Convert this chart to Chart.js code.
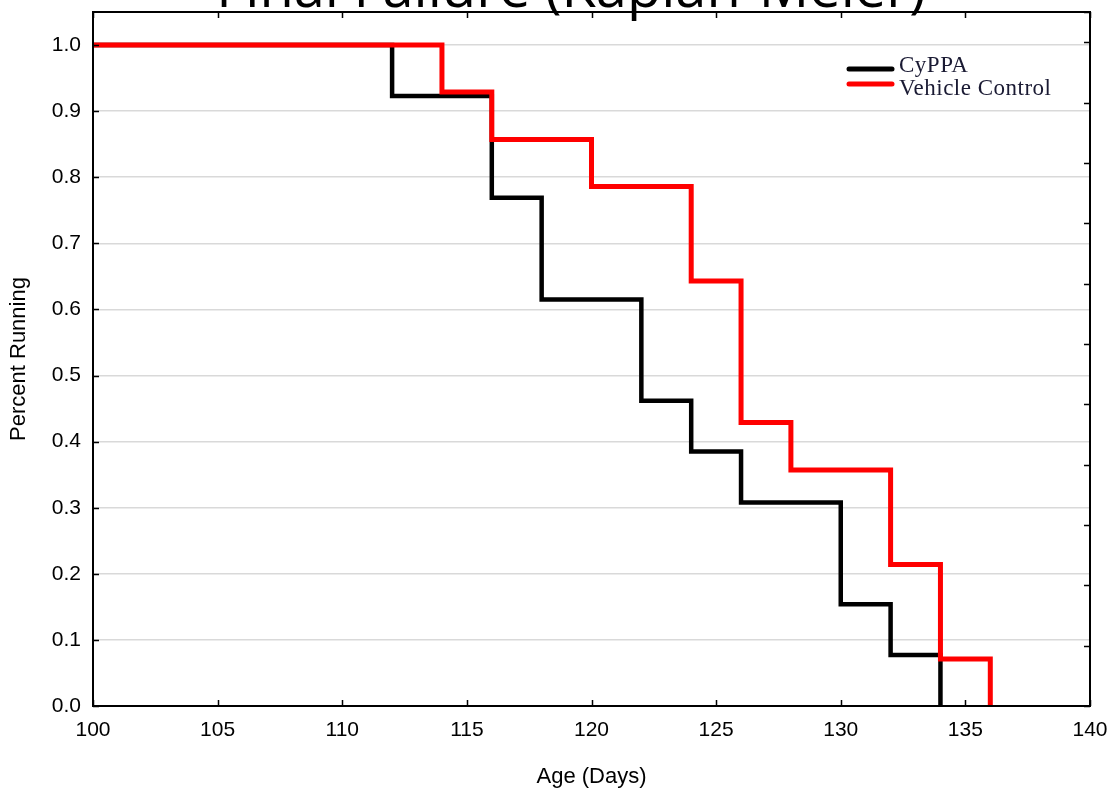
<!DOCTYPE html>
<html>
<head>
<meta charset="utf-8">
<title>Final Failure (Kaplan-Meier)</title>
<script src="https://cdn.jsdelivr.net/npm/chart.js@4/dist/chart.umd.min.js"></script>
<style>
  html, body { margin: 0; padding: 0; background: #fff; }
  #wrap { width: 1113px; height: 790px; }
</style>
</head>
<body>
<div id="wrap"><canvas id="km" width="1113" height="790"></canvas></div>
<script>
// ---------- DATA ----------
const chartTitle = "Final Failure (Kaplan-Meier)";
const xTitle = "Age (Days)";
const yTitle = "Percent Running";

const cyppaLabel = "CyPPA";
const cyppaDays  = [100, 112, 116, 118, 122, 124, 126, 130, 132, 134];
const cyppaSurv  = [1.0, 0.923, 0.769, 0.615, 0.462, 0.385, 0.308, 0.154, 0.077, 0.0];

const vehicleLabel = "Vehicle Control";
const vehicleDays  = [100, 114, 116, 120, 124, 126, 128, 132, 134, 136];
const vehicleSurv  = [1.0, 0.929, 0.857, 0.786, 0.643, 0.429, 0.357, 0.214, 0.071, 0.0];

const xMin = 100, xMax = 140, xStep = 5;
const yMin = 0, yMax = 1.05, yStep = 0.1, yTop = 1.0;

const FONT = "'Liberation Sans', Arial, sans-serif";

function toPoints(xs, ys) {
  return xs.map((x, i) => ({ x, y: ys[i] }));
}

// no automatic label overflow padding, layout.padding decides
function zeroPad(scale) {
  scale.paddingLeft = 0;
  scale.paddingRight = 0;
  scale.paddingTop = 0;
  scale.paddingBottom = 0;
}

// ---------- PLUGINS ----------
// frame + inward ticks on all four sides
const framePlugin = {
  id: "frame",
  afterDraw(chart) {
    const { ctx, chartArea: a, scales } = chart;
    const len = 6;
    ctx.save();
    ctx.strokeStyle = "#000";
    ctx.lineWidth = 1.5;
    ctx.beginPath();
    scales.x.ticks.forEach(t => {
      const px = Math.round(scales.x.getPixelForValue(t.value)) + 0.5;
      ctx.moveTo(px, a.bottom); ctx.lineTo(px, a.bottom - len);
      ctx.moveTo(px, a.top);    ctx.lineTo(px, a.top + len);
    });
    scales.y.ticks.forEach(t => {
      const py = Math.round(scales.y.getPixelForValue(t.value)) + 0.5;
      ctx.moveTo(a.left, py); ctx.lineTo(a.left + len, py);
    });
    scales.y2.ticks.forEach(t => {
      const py = Math.round(scales.y2.getPixelForValue(t.value)) + 0.5;
      ctx.moveTo(a.right, py); ctx.lineTo(a.right - len, py);
    });
    ctx.stroke();
    ctx.lineWidth = 2;
    ctx.strokeRect(a.left, a.top, a.right - a.left, a.bottom - a.top);
    ctx.restore();
  }
};

// big title, cut off at the top edge
const titlePlugin = {
  id: "bigTitle",
  afterDraw(chart) {
    const { ctx } = chart;
    ctx.save();
    ctx.fillStyle = "#000";
    ctx.font = "56px 'Open Sans', sans-serif";
    ctx.textAlign = "center";
    ctx.textBaseline = "alphabetic";
    ctx.fillText(chartTitle, 571, 7);
    ctx.restore();
  }
};

// legend in the top right corner
const legendPlugin = {
  id: "cornerLegend",
  afterDraw(chart) {
    const { ctx } = chart;
    const items = chart.data.datasets;
    ctx.save();
    ctx.font = "23px 'Liberation Serif', 'Times New Roman', serif";
    ctx.letterSpacing = "0.5px";
    ctx.textAlign = "left";
    ctx.textBaseline = "alphabetic";
    items.forEach((ds, i) => {
      const y = 69 + i * 15;
      ctx.strokeStyle = ds.borderColor;
      ctx.lineWidth = 5;
      ctx.lineCap = "round";
      ctx.beginPath();
      ctx.moveTo(849, y);
      ctx.lineTo(892, y);
      ctx.stroke();
      ctx.fillStyle = "#1a1a33";
      ctx.fillText(ds.label, 899, 72 + i * 23);
    });
    ctx.restore();
  }
};

// ---------- CHART ----------
const ctx = document.getElementById("km").getContext("2d");

new Chart(ctx, {
  type: "line",
  data: {
    datasets: [
      {
        label: cyppaLabel,
        data: toPoints(cyppaDays, cyppaSurv),
        borderColor: "#000000",
        borderWidth: 4.5,
        stepped: "before",
        pointRadius: 0,
        fill: false,
        borderJoinStyle: "miter",
        borderCapStyle: "butt",
        order: 2,
      },
      {
        label: vehicleLabel,
        data: toPoints(vehicleDays, vehicleSurv),
        borderColor: "#ff0000",
        borderWidth: 5,
        stepped: "before",
        pointRadius: 0,
        fill: false,
        borderJoinStyle: "miter",
        borderCapStyle: "butt",
        order: 1,
      },
    ],
  },
  options: {
    responsive: false,
    animation: false,
    layout: { padding: { top: 12, right: 23, left: 0, bottom: 0 } },
    plugins: {
      legend: { display: false },
      tooltip: { enabled: false },
      title: { display: false },
    },
    scales: {
      x: {
        type: "linear",
        min: xMin,
        max: xMax,
        ticks: {
          stepSize: xStep,
          color: "#000",
          font: { family: FONT, size: 21 },
          padding: 12,
          maxRotation: 0,
        },
        grid: { drawOnChartArea: false, drawTicks: false },
        border: { display: false },
        title: {
          display: true,
          text: xTitle,
          color: "#000",
          font: { family: FONT, size: 22 },
          padding: { top: 0, bottom: 0 },
        },
        afterFit(scale) { scale.height = 84; zeroPad(scale); },
      },
      y: {
        type: "linear",
        min: yMin,
        max: yMax,
        ticks: {
          stepSize: yStep,
          color: "#000",
          font: { family: FONT, size: 21 },
          padding: 12,
          callback: v => v.toFixed(1),
        },
        afterBuildTicks(scale) {
          scale.ticks = scale.ticks.filter(t => t.value <= yTop + 1e-6);
        },
        grid: {
          drawTicks: false,
          lineWidth: 1.5,
          color: c => (c.tick && c.tick.value > 0 ? "#d9d9d9" : "rgba(0,0,0,0)"),
        },
        border: { display: false },
        title: {
          display: true,
          text: yTitle,
          color: "#000",
          font: { family: FONT, size: 22 },
          padding: { top: 6, bottom: 0 },
        },
        afterFit(scale) { scale.width = 93; zeroPad(scale); },
      },
      y2: {
        type: "linear",
        position: "right",
        min: 0,
        max: 11.5,
        ticks: { stepSize: 1, display: false },
        grid: { drawOnChartArea: false, drawTicks: false },
        border: { display: false },
        afterFit(scale) { scale.width = 0; zeroPad(scale); },
      },
    },
  },
  plugins: [framePlugin, titlePlugin, legendPlugin],
});
</script>
</body>
</html>
